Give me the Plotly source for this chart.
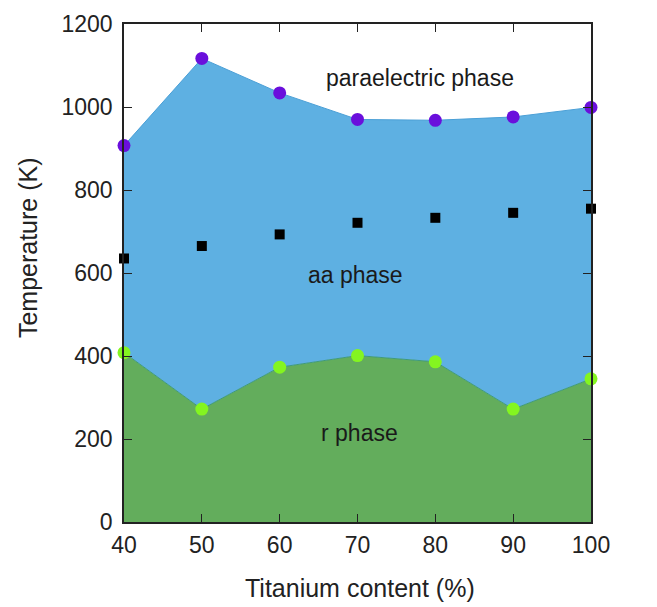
import plotly.graph_objects as go

ti_content = [40, 50, 60, 70, 80, 90, 100]
t_paraelectric = [907, 1117, 1034, 970, 968, 976, 999]
t_aa_squares = [635, 665, 693, 721, 733, 745, 755]
t_r_phase = [408, 272, 373, 401, 386, 272, 345]

fig = go.Figure()
fig.add_trace(go.Scatter(x=ti_content, y=t_r_phase, mode="lines", fill="tozeroy",
                         fillcolor="#63ad5c", line=dict(color="#3f9a7a", width=1),
                         showlegend=False, hoverinfo="skip"))
fig.add_trace(go.Scatter(x=ti_content, y=t_paraelectric, mode="lines", fill="tonexty",
                         fillcolor="#5eb0e2", line=dict(color="#4a9fd6", width=1),
                         showlegend=False, hoverinfo="skip"))
fig.add_trace(go.Scatter(x=ti_content, y=t_paraelectric, mode="markers",
                         marker=dict(color="#6a0fdc", size=13), cliponaxis=False, showlegend=False))
fig.add_trace(go.Scatter(x=ti_content, y=t_aa_squares, mode="markers",
                         marker=dict(color="black", size=10, symbol="square"), cliponaxis=False, showlegend=False))
fig.add_trace(go.Scatter(x=ti_content, y=t_r_phase, mode="markers",
                         marker=dict(color="#84f520", size=13), cliponaxis=False, showlegend=False))

font_main = "Liberation Sans, Arial, sans-serif"
axis_common = dict(showline=True, linecolor="#222", linewidth=1.5, mirror="ticks",
                   ticks="inside", ticklen=8, tickcolor="#222", showgrid=False, zeroline=False,
                   automargin=False,
                   tickfont=dict(size=23, color="#222", family=font_main))
fig.update_xaxes(range=[40, 100], tickvals=[40, 50, 60, 70, 80, 90, 100],
                 ticklabelstandoff=2, **axis_common)
fig.update_yaxes(range=[0, 1200], tickvals=[0, 200, 400, 600, 800, 1000, 1200],
                 ticklabelstandoff=5, **axis_common)

title_font = dict(size=25, color="#222", family=font_main)
fig.add_annotation(xref="paper", yref="paper", x=0.505, y=-0.1325, text="Titanium content (%)",
                   showarrow=False, font=title_font, xanchor="center", yanchor="middle")
fig.add_annotation(xref="paper", yref="paper", x=-0.2056, y=0.552, text="Temperature (K)",
                   textangle=-90, showarrow=False, font=title_font, xanchor="center", yanchor="middle")

ann_font = dict(size=23, color="#1a1a1a", family=font_main)
fig.add_annotation(x=78.0, y=1070, text="paraelectric phase", showarrow=False, font=ann_font)
fig.add_annotation(x=69.7, y=595, text="aa phase", showarrow=False, font=ann_font)
fig.add_annotation(x=70.2, y=214, text="r phase", showarrow=False, font=ann_font)

fig.update_layout(width=657, height=607, margin=dict(l=116, r=74, t=16, b=93),
                  plot_bgcolor="white", paper_bgcolor="white",
                  font=dict(family=font_main))
fig.write_html("out.html")
